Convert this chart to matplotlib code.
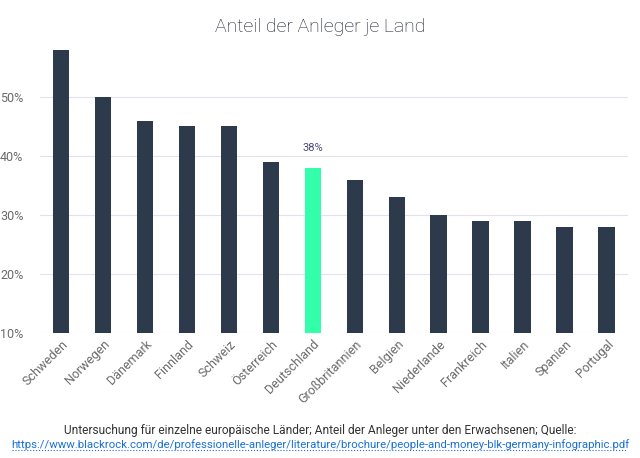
import matplotlib.pyplot as plt
from matplotlib.ticker import FuncFormatter

plt.rcParams['font.family'] = ['Roboto', 'DejaVu Sans']

laender = ['Schweden', 'Norwegen', 'Dänemark', 'Finnland', 'Schweiz', 'Österreich',
           'Deutschland', 'Großbritannien', 'Belgien', 'Niederlande', 'Frankreich',
           'Italien', 'Spanien', 'Portugal']
anteil = [58, 50, 46, 45, 45, 39, 38, 36, 33, 30, 29, 29, 28, 28]
y_ticks = [10, 20, 30, 40, 50]
highlight = 'Deutschland'

fig = plt.figure(figsize=(6.4, 4.58), dpi=100)
ax = fig.add_axes([0.0625, 0.273, 0.9185, 0.644])

colors = ['#33ffaa' if l == highlight else '#2d3a4b' for l in laender]
x = range(len(laender))
ax.bar(x, anteil, width=0.4, color=colors, zorder=3)

# value label only on the highlighted bar
i = laender.index(highlight)
ax.text(i, anteil[i] + 2.5, f'{anteil[i]}%', ha='center', va='bottom',
        fontsize=8, color='#4a4a7a')

ax.set_xlim(-0.5, len(laender) - 0.5)
ax.set_ylim(10, 60)
ax.set_yticks(y_ticks)
ax.yaxis.set_major_formatter(FuncFormatter(lambda v, _: f'{v:.0f}%'))
ax.grid(axis='y', color='#e2e2ee', linewidth=0.8, zorder=0)
for s in ax.spines.values():
    s.set_visible(False)
ax.tick_params(length=0, labelsize=9, labelcolor='#6a6a6a')
ax.tick_params(axis='y', pad=12)
ax.set_xticks(list(x))
ax.set_xticklabels(laender, rotation=45, ha='right', rotation_mode='anchor')

fig.text(0.5, 0.94, 'Anteil der Anleger je Land', ha='center', va='center',
         fontsize=14, color='#15182c', fontweight='light')
fig.text(0.5, 0.061, 'Untersuchung für einzelne europäische Länder; Anteil der Anleger unter den Erwachsenen; Quelle:',
         ha='center', va='center', fontsize=8.6, color='#333333')
fig.text(0.5, 0.030, 'https://www.blackrock.com/de/professionelle-anleger/literature/brochure/people-and-money-blk-germany-infographic.pdf',
         ha='center', va='center', fontsize=8.2, color='#1a6fd6')
fig.add_artist(plt.Line2D([0.019, 0.98], [0.018, 0.018], color='#1a6fd6',
                          linestyle=':', linewidth=0.8, transform=fig.transFigure))

fig.savefig('out.png', dpi=100)
